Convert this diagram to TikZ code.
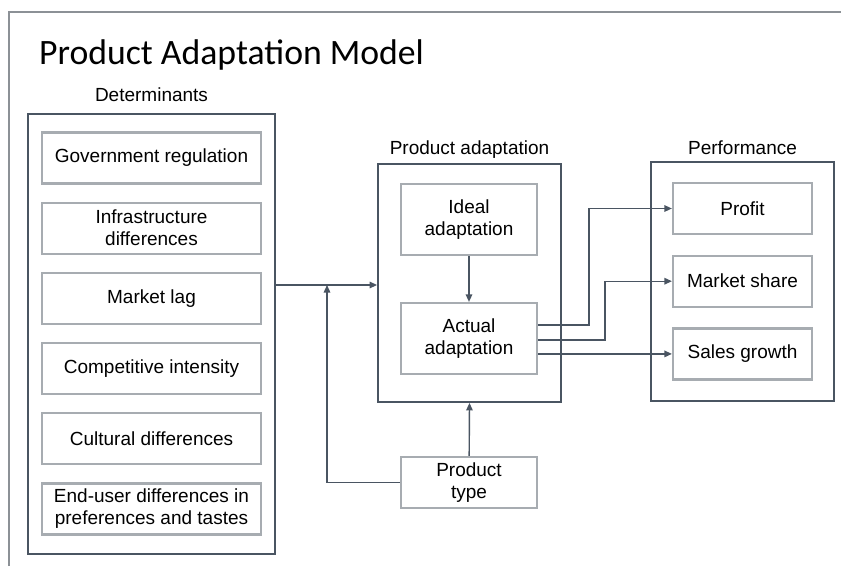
\documentclass[tikz,border=0pt]{standalone}
\usepackage{fontspec}
\setmainfont{Liberation Sans}
\newfontfamily\titlefont{Carlito}
\usetikzlibrary{arrows.meta,positioning}
\definecolor{slate}{HTML}{4A5562}
\definecolor{ash}{HTML}{A7ACB1}
\definecolor{rim}{HTML}{8C9196}
\begin{document}
\begin{tikzpicture}[x=1pt,y=-1pt,
  group/.style={draw=slate,line width=1.8pt,inner sep=0pt},
  head/.style={font=\fontsize{19}{22}\selectfont,text=black,anchor=base,inner sep=0pt},
  item/.style={draw=ash,line width=2.2pt,align=center,inner sep=2pt,
    font=\fontsize{19}{22}\selectfont,text=black},
  det/.style={item,minimum width=219pt,minimum height=51pt},
  mid/.style={item,minimum width=136pt,minimum height=71pt},
  perf/.style={item,minimum width=139pt,minimum height=51pt},
  flow/.style={-{Triangle[length=7.5pt,width=6.5pt]},line width=1.4pt,draw=slate},
  node distance=17pt]
 \useasboundingbox (0,0) rectangle (841,566);
 \draw[rim,line width=2pt] (9,566) -- (9,12) -- (841,12);
 \node[anchor=base west,inner sep=0pt,font=\titlefont\fontsize{35.7}{40}\selectfont,text=black]
   (title) at (39,64) {Product Adaptation Model};
 % groups
 \node[group,minimum width=247pt,minimum height=440pt] (dets) at (151.5,334) {};
 \node[group,minimum width=183pt,minimum height=238pt] (adapt) at (469.5,283) {};
 \node[group,minimum width=183pt,minimum height=239pt] (perfs) at (742.5,281.5) {};
 \node[head] (dethead) at (151.5,101) {Determinants};
 \node[head] (adapthead) at (469.5,154) {Product adaptation};
 \node[head] (perfhead) at (742.5,154) {Performance};
 % determinants
 \node[det] (gov) at (151.5,158) {Government regulation};
 \node[det,below=of gov] (infra) {Infrastructure\\differences};
 \node[det,below=of infra] (lag) {Market lag};
 \node[det,below=of lag] (comp) {Competitive intensity};
 \node[det,below=of comp] (cult) {Cultural differences};
 \node[det,below=of cult] (user) {End-user differences in\\preferences and tastes};
 % adaptation
 \node[mid] (ideal) at (469,219.5) {Ideal\\adaptation};
 \node[mid] (actual) at (469,338.5) {Actual\\adaptation};
 \node[mid,minimum height=51pt] (ptype) at (469,482.5) {Product\\type};
 % performance
 \node[perf] (profit) at (742.5,208.5) {Profit};
 \node[perf,below=19.5pt of profit] (share) {Market share};
 \node[perf,below=19.5pt of share] (growth) {Sales growth};
 \coordinate (join) at (327,285);
 \draw[flow] (dets.east |- join) -- (adapt.west |- join);
 \draw[flow] (ptype.west) -| (join);
 \draw[flow] (ptype) -- (adapt.south);
 \draw[flow] (ideal) -- (actual);
 \draw[flow] ([yshift=13.5pt]actual.east) -- ++(51pt,0pt) |- (profit.west);
 \draw[flow] ([yshift=-1.5pt]actual.east) -- ++(67pt,0pt) |- (share.west);
 \draw[flow] (actual.east |- growth.west) -- (growth.west);
\end{tikzpicture}
\end{document}
